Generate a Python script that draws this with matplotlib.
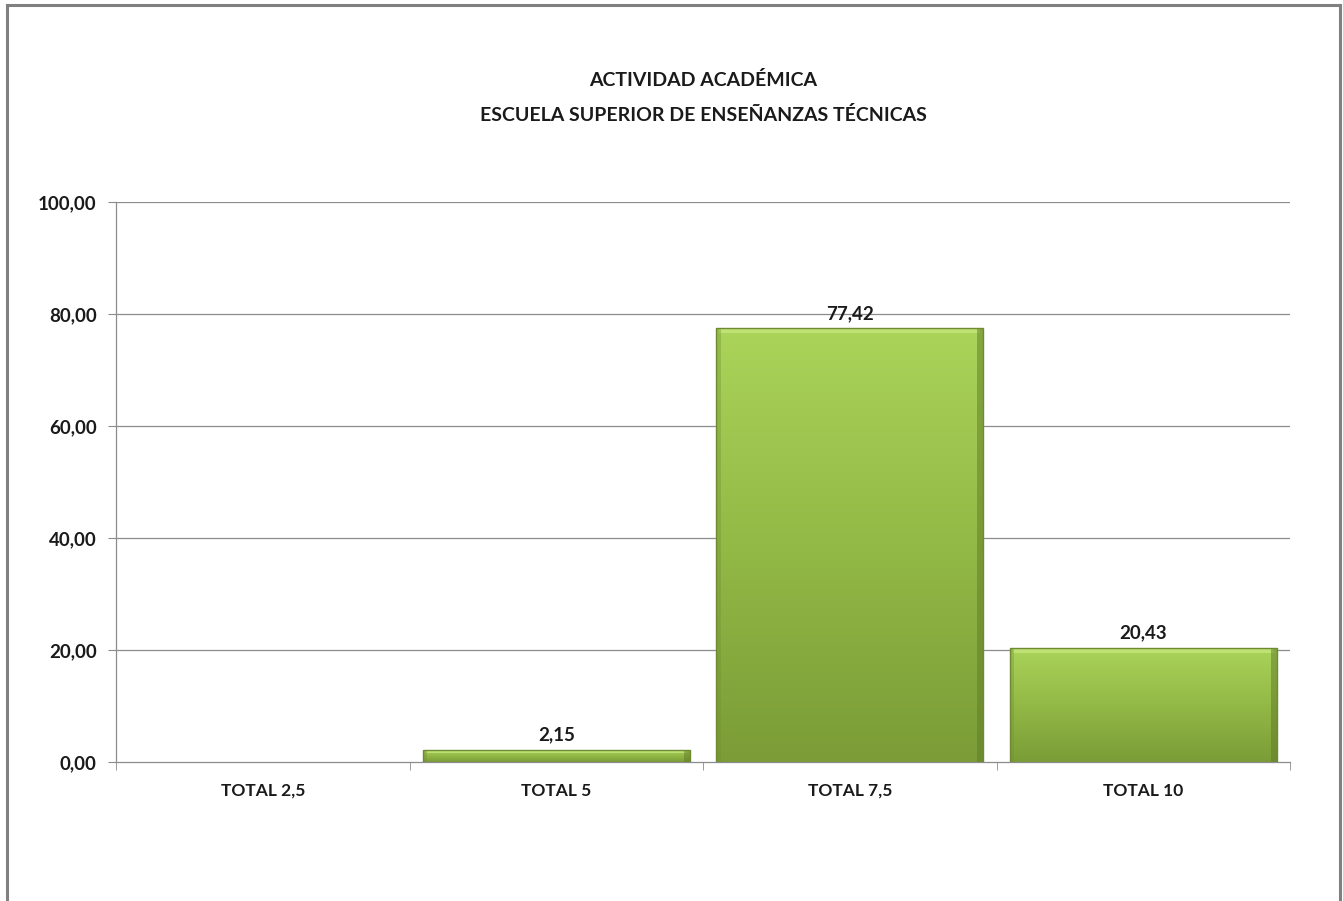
import matplotlib
matplotlib.use("Agg")
import matplotlib.pyplot as plt
import numpy as np
from matplotlib.colors import LinearSegmentedColormap
from matplotlib.lines import Line2D

categories = ["TOTAL 2,5", "TOTAL 5", "TOTAL 7,5", "TOTAL 10"]
values = [0.0, 2.15, 77.42, 20.43]
value_labels = ["", "2,15", "77,42", "20,43"]
yticks = [0, 20, 40, 60, 80, 100]
ytick_labels = ["0,00", "20,00", "40,00", "60,00", "80,00", "100,00"]
title_lines = ["ACTIVIDAD ACADÉMICA", "ESCUELA SUPERIOR DE ENSEÑANZAS TÉCNICAS"]

plt.rcParams['font.family'] = ['Lato', 'DejaVu Sans']
FW = "bold"

W, H = 1343, 901
fig = plt.figure(figsize=(W / 100, H / 100), dpi=100)
fig.patch.set_facecolor("white")

L, R, B, T = 116, 1290, 762, 202
ax = fig.add_axes([L / W, 1 - B / H, (R - L) / W, (B - T) / H])
ax.set_xlim(-0.5, 3.5)
ax.set_ylim(0, 100)

grid_c = "#8c8c8c"
for y in yticks[1:]:
    ax.axhline(y, color=grid_c, lw=0.9, zorder=0)

cmap = LinearSegmentedColormap.from_list("g", ["#7b9c37", "#93b946", "#aad45a"])
grad = np.linspace(0, 1, 256).reshape(-1, 1)
width = 0.91
for i, v in enumerate(values):
    if v <= 0:
        continue
    b = ax.bar(i, v, width=width, color="none", edgecolor="#6f8a33",
               linewidth=1.0, zorder=3)[0]
    x0 = b.get_x()
    x1 = x0 + b.get_width()
    im = ax.imshow(grad, cmap=cmap, origin="lower", aspect="auto",
                   extent=(x0, x1, 0, v), zorder=2, interpolation="bicubic")
    im.set_clip_path(b)
    hh = min(0.9, v * 0.25)
    ax.fill_between([x0 + 0.01, x1 - 0.01], v - hh, v, color="#c4e67c", alpha=0.8, zorder=2.5, lw=0)
    ax.fill_between([x1 - 0.02, x1], 0, v, color="#5f7a28", alpha=0.5, zorder=2.5, lw=0)
    ax.fill_between([x0, x0 + 0.015], 0, v, color="#6f8f30", alpha=0.35, zorder=2.5, lw=0)

for i, (v, lab) in enumerate(zip(values, value_labels)):
    if lab:
        ax.text(i, v + 2.7, lab, ha="center", va="center", fontsize=13.5,
                fontweight=FW, color="#1a1a1a", zorder=4)

ax.set_yticks(yticks)
ax.set_yticklabels(ytick_labels, fontsize=13.5, fontweight=FW, color="#1a1a1a")
ax.set_xticks(range(len(categories)))
ax.set_xticklabels(categories, fontsize=12.5, fontweight=FW, color="#1a1a1a")
ax.set_xticks(np.arange(-0.5, 4.0, 1.0), minor=True)
ax.tick_params(axis="x", which="major", length=0, pad=15)
ax.tick_params(axis="x", which="minor", length=6, color=grid_c, direction="out")
ax.tick_params(axis="y", length=6, color=grid_c, direction="out", pad=8)

for s in ["top", "right"]:
    ax.spines[s].set_visible(False)
ax.spines["left"].set_color(grid_c)
ax.spines["bottom"].set_color(grid_c)
ax.spines["left"].set_linewidth(0.9)
ax.spines["bottom"].set_linewidth(0.9)
ax.set_facecolor("none")

for yy, line in zip([80, 115], title_lines):
    fig.text(703 / W, 1 - yy / H, line, ha="center", va="center",
             fontsize=14, fontweight=FW, color="#1a1a1a")

bc = "#808080"
fig.add_artist(Line2D([7 / W, 1340 / W], [1 - 4.5 / H, 1 - 4.5 / H], color=bc, lw=2.2))
fig.add_artist(Line2D([7 / W, 7 / W], [0, 1 - 4.5 / H], color=bc, lw=2.2))
fig.add_artist(Line2D([1340 / W, 1340 / W], [0, 1 - 4.5 / H], color=bc, lw=2.2))

fig.savefig("out.png", dpi=100)
